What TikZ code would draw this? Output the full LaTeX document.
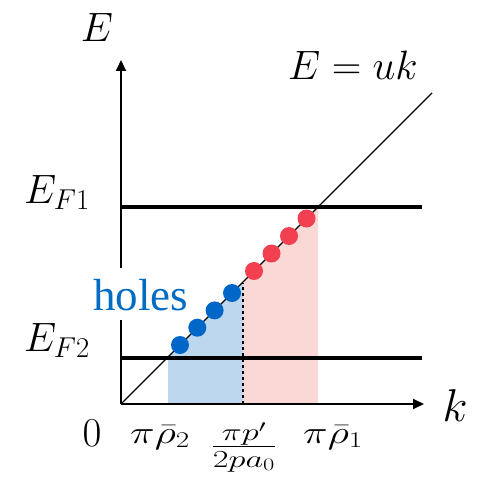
\RequirePackage{fix-cm}
\documentclass[tikz,border=0pt]{standalone}
\usepackage{fontspec}
\newfontfamily\timesf{Liberation Serif}
\usetikzlibrary{arrows.meta}
\definecolor{dotblue}{RGB}{0,102,200}
\definecolor{holesblue}{RGB}{0,108,196}
\definecolor{dotred}{RGB}{242,64,80}
\definecolor{fillblue}{RGB}{189,216,238}
\definecolor{fillred}{RGB}{249,216,213}
\tikzset{
  axisline/.style={line width=1.8pt,-{Triangle[length=11pt,width=10pt]}},
  fermiline/.style={line width=3.2pt},
  dotb/.style={circle,fill=dotblue,inner sep=0pt,minimum size=18pt},
  dotr/.style={circle,fill=dotred,inner sep=0pt,minimum size=18pt},
  lbl/.style={inner sep=0pt,font=\fontsize{41}{48}\selectfont},
  ticklbl/.style={inner sep=0pt,font=\fontsize{32}{38}\selectfont},
}
\begin{document}
\begin{tikzpicture}[x=1pt,y=-1pt]
\useasboundingbox (0,0) rectangle (477,481);
% coordinates
\coordinate (O) at (121,404);
\coordinate (ytop) at (121,60);
\coordinate (xend) at (424,404);
\coordinate (dend) at (432,93);
\coordinate (f1l) at (121,207);
\coordinate (f1r) at (422,207);
\coordinate (f2l) at (121,358);
\coordinate (f2r) at (422,358);
\coordinate (mbot) at (243,404);
\coordinate (mtop) at (243,283);
% fills
\fill[fillblue] (168,404) -- (168,357) -- (243,282) -- (243,404) -- cycle;
\fill[fillred] (243,404) -- (243,282) -- (318,207) -- (318,404) -- cycle;
% axes
\draw[axisline] (O) -- (ytop);
\draw[axisline] (O) -- (xend);
% Fermi lines
\draw[fermiline] (f1l) -- (f1r);
\draw[fermiline] (f2l) -- (f2r);
% dispersion
\draw[line width=1.4pt] (O) -- (dend);
% dashed
\draw[line width=1.8pt,dash pattern=on 3.5pt off 2.5pt] (mbot) -- (mtop);
% dots
\foreach \x [count=\i] in {180,197.3,214.6,232}{
  \node[dotb] (b\i) at (\x,{404-(\x-121)}) {};
}
\foreach \x [count=\i] in {254,271.5,289,306.5}{
  \node[dotr] (r\i) at (\x,{404-(\x-121)}) {};
}
% holes label
\node[anchor=base west,inner sep=0pt,fill=white,text height=42pt,text depth=10pt,
  text=holesblue,font=\timesf\fontsize{45}{54}\selectfont] (holes) at (93,310) {holes};
% labels
\node[lbl,anchor=base] (Elab) at (97,42) {$E$};
\node[lbl,anchor=base] (Euk) at (353,80) {$E=uk$};
\node[lbl,anchor=base west] (EF1) at (24,203) {$E_{F1}$};
\node[lbl,anchor=base west] (EF2) at (24,351) {$E_{F2}$};
\node[lbl,anchor=base] (zero) at (92,446) {$0$};
\node[inner sep=0pt,anchor=base,font=\fontsize{46}{54}\selectfont] (klab) at (455,421) {$k$};
\node[ticklbl,anchor=base west] (rho2) at (130,443) {\scalebox{1.3}[1]{$\pi\bar{\rho}_2$}};
\node[ticklbl,anchor=base west] (rho1) at (303,443) {\scalebox{1.3}[1]{$\pi\bar{\rho}_1$}};
\node[inner sep=0pt,anchor=base,font=\fontsize{35}{42}\selectfont] (frac) at (244,455) {\scalebox{1.4}[1]{$\frac{\pi p'}{2pa_0}$}};
\end{tikzpicture}
\end{document}
